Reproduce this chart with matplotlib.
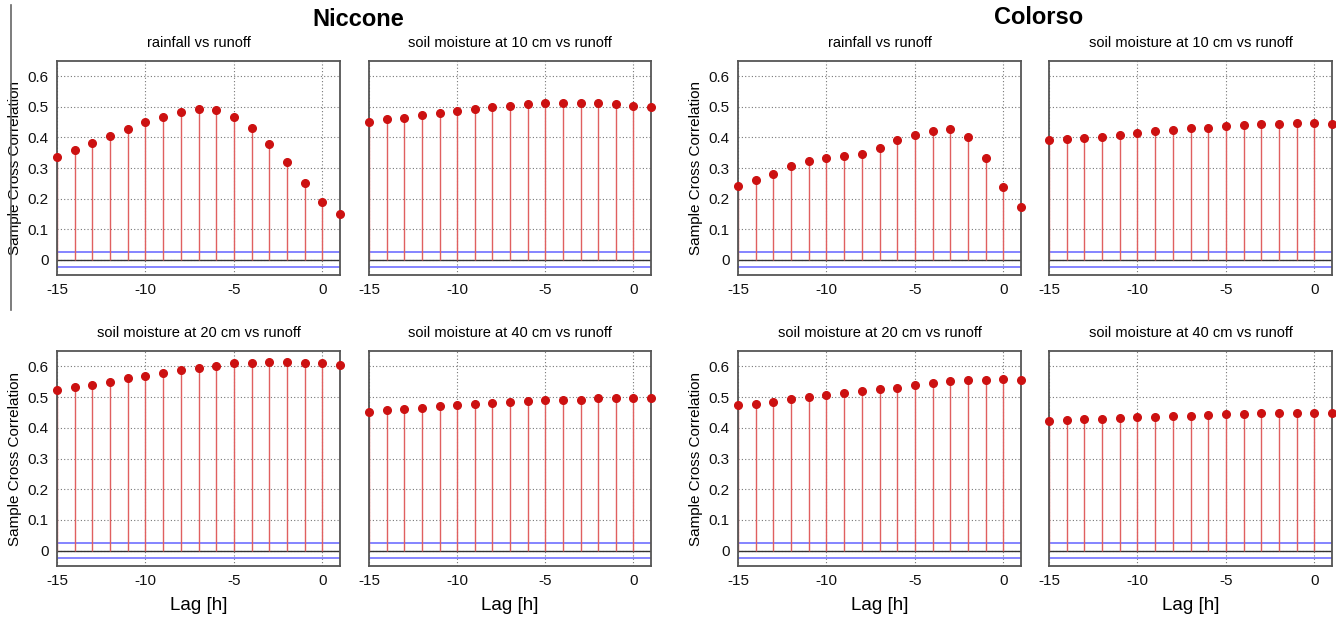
import matplotlib
matplotlib.use("Agg")
import matplotlib.pyplot as plt
from matplotlib.lines import Line2D
import numpy as np

plt.rcParams['font.family'] = ['Liberation Sans', 'DejaVu Sans']
plt.rcParams['axes.unicode_minus'] = False

lags = list(range(-15, 2))

niccone_rain = [0.337, 0.360, 0.383, 0.406, 0.429, 0.449, 0.468, 0.484, 0.493,
                0.489, 0.468, 0.431, 0.380, 0.319, 0.251, 0.190, 0.149]
niccone_sm10 = [0.449, 0.459, 0.465, 0.472, 0.480, 0.487, 0.494, 0.500, 0.503,
                0.508, 0.511, 0.513, 0.513, 0.511, 0.508, 0.503, 0.500]
niccone_sm20 = [0.523, 0.532, 0.540, 0.550, 0.561, 0.570, 0.580, 0.589, 0.595,
                0.602, 0.610, 0.612, 0.613, 0.613, 0.612, 0.610, 0.605]
niccone_sm40 = [0.453, 0.459, 0.461, 0.465, 0.470, 0.474, 0.476, 0.480, 0.484,
                0.488, 0.490, 0.492, 0.492, 0.496, 0.496, 0.496, 0.496]

colorso_rain = [0.242, 0.260, 0.280, 0.307, 0.322, 0.332, 0.340, 0.345, 0.367,
                0.390, 0.407, 0.421, 0.429, 0.403, 0.334, 0.237, 0.174]
colorso_sm10 = [0.390, 0.396, 0.399, 0.403, 0.409, 0.413, 0.421, 0.425, 0.430,
                0.432, 0.436, 0.441, 0.443, 0.445, 0.447, 0.447, 0.445]
colorso_sm20 = [0.473, 0.478, 0.485, 0.493, 0.499, 0.506, 0.513, 0.520, 0.527,
                0.531, 0.538, 0.545, 0.551, 0.554, 0.556, 0.558, 0.556]
colorso_sm40 = [0.422, 0.424, 0.427, 0.429, 0.432, 0.434, 0.436, 0.438, 0.440,
                0.442, 0.445, 0.445, 0.447, 0.447, 0.449, 0.449, 0.449]

conf_bound = 0.025
xticks = [-15, -10, -5, 0]
yticks = [0, 0.1, 0.2, 0.3, 0.4, 0.5, 0.6]
ytick_labels = ['0', '0.1', '0.2', '0.3', '0.4', '0.5', '0.6']

subtitles = ["rainfall vs runoff", "soil moisture at 10 cm vs runoff",
             "soil moisture at 20 cm vs runoff", "soil moisture at 40 cm vs runoff"]
sites = ["Niccone", "Colorso"]

W, H = 1336, 618
fig = plt.figure(figsize=(W / 100, H / 100), dpi=100)

cols = [(57, 340), (369, 651), (738, 1021), (1049, 1332)]
rows = [(61, 275), (351, 566)]

panels = [
    (0, 0, niccone_rain, 0), (0, 1, niccone_sm10, 1),
    (1, 0, niccone_sm20, 2), (1, 1, niccone_sm40, 3),
    (0, 2, colorso_rain, 0), (0, 3, colorso_sm10, 1),
    (1, 2, colorso_sm20, 2), (1, 3, colorso_sm40, 3),
]

spine_col = '#555555'
for r, c, vals, si in panels:
    x0, x1 = cols[c]
    t, b = rows[r]
    ax = fig.add_axes([x0 / W, 1 - b / H, (x1 - x0) / W, (b - t) / H])
    ax.set_xlim(-15, 1)
    ax.set_ylim(-0.05, 0.65)
    ax.set_xticks(xticks)
    ax.set_yticks(yticks)
    ax.grid(True, color='#777777', linestyle=(0, (1, 2)), linewidth=0.8)
    ax.set_axisbelow(True)
    ax.axhline(0, color='#333333', linewidth=1.0, zorder=2)
    ax.axhline(conf_bound, color='#7070ff', linewidth=1.2, zorder=2)
    ax.axhline(-conf_bound, color='#7070ff', linewidth=1.2, zorder=2)
    ax.vlines(lags, 0, vals, color='#e06060', linewidth=1.0, zorder=3)
    ax.plot(lags, vals, 'o', color='#cc1111', markersize=5.5, clip_on=False, zorder=6)
    for s in ax.spines.values():
        s.set_color(spine_col)
        s.set_linewidth(1.3)
        s.set_zorder(5)
    ax.tick_params(direction='in', length=0, labelsize=11, colors='#111111', pad=6)
    if c in (0, 2):
        ax.set_yticklabels(ytick_labels)
        ax.set_ylabel("Sample Cross Correlation", fontsize=11, labelpad=4)
    else:
        ax.set_yticklabels([])
    ax.set_title(subtitles[si], fontsize=10.5, pad=10)
    if r == 1:
        ax.set_xlabel("Lag [h]", fontsize=13.5, labelpad=6)

fig.text(358 / W, 1 - 19 / H, sites[0], ha='center', va='center',
         fontsize=17, fontweight='bold')
fig.text(1039 / W, 1 - 18 / H, sites[1], ha='center', va='center',
         fontsize=17, fontweight='bold')
fig.add_artist(Line2D([11 / W, 11 / W], [1 - 5 / H, 1 - 310 / H],
                      color='#666666', linewidth=1.2))

fig.savefig("out.png", dpi=100)
